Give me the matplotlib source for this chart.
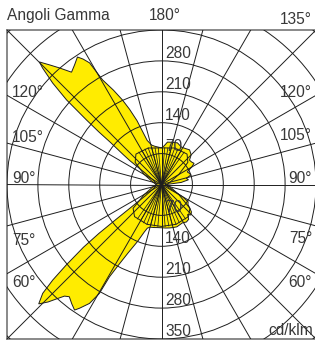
import numpy as np
import matplotlib
matplotlib.use('Agg')
import matplotlib.pyplot as plt
from matplotlib.patches import Circle, Polygon

plt.rcParams['font.family'] = ['Liberation Sans', 'DejaVu Sans']

# ---------------- data (cd/klm versus gamma angle, degrees) ----------------
# C0-C180 plane, C180 half (left side of the diagram)
gA_left = [0, 5, 10, 15, 18, 20, 22.8, 26, 28, 29.4, 29.7, 31.2, 33.5, 34.7, 37,
           39.4, 41, 42.3, 44, 45.8, 47.5, 48.7, 49.8, 51.2, 52, 52.5, 53, 55,
           60, 70, 80, 90, 100, 110, 120, 125, 127, 128, 129.5, 130, 130.7, 131.7,
           133, 134.4, 135.1, 137, 138.8, 141.3, 144, 146.6, 148, 149.4, 150.6,
           153, 155.2, 157, 159, 160.5, 162, 166, 170, 175, 180]
IA_left = [98, 98, 99, 100, 104, 115, 140, 172, 205, 240, 284, 315, 336, 346, 338,
           329, 335, 349, 370, 388, 365, 328, 283, 227, 180, 130, 95, 45,
           25, 15, 12, 10, 12, 15, 25, 45, 90, 110, 150, 185, 224, 288,
           337, 377, 392, 370, 351, 326, 335, 346, 335, 320, 272,
           240, 211, 185, 155, 125, 105, 92, 88, 85, 83]
# C0-C180 plane, C0 half (right side)
gA_right = [0, 5, 10, 15, 20, 25, 28.6, 33.7, 38, 41, 44, 47.5, 50, 53, 57, 60,
            63, 67, 75, 90, 92, 96, 100, 104, 108, 112, 116, 120, 123, 127, 131,
            135, 141, 146, 152, 159, 165, 172, 176, 180]
IA_right = [98, 99, 100, 101, 102, 100, 99, 102, 100, 90, 96, 92, 84, 75, 72, 55,
            30, 18, 12, 8, 15, 45, 62, 58, 70, 68, 65, 79, 88, 85, 84,
            95, 101, 98, 96, 101, 99, 97, 88, 83]

# C90-C270 plane (symmetric, drawn on both sides)
gB = [0, 20, 40, 50, 60, 75, 90, 105, 120, 130, 140, 160, 170, 180]
IB = [95, 96, 95, 84, 45, 20, 12, 20, 45, 78, 90, 88, 84, 83]

rings = [70, 140, 210, 280, 350, 420, 490]
ring_labels_top = [70, 140, 210, 280]
ring_labels_bottom = [70, 140, 210, 280, 350]
spoke_step = 15
fan_step = 5

left_deg_labels = ['120°', '105°', '90°', '75°', '60°']
right_deg_labels = ['120°', '105°', '90°', '75°', '60°']

# ---------------- figure ----------------
W, H = 315, 340
fig = plt.figure(figsize=(W / 100, H / 100), dpi=100)
L, T, S = 7, 30, 309
ax = fig.add_axes([L / W, 1 - (T + S) / H, S / W, S / H])
R = 350
ax.set_xlim(-R, R)
ax.set_ylim(-R, R)
ax.set_xticks([])
ax.set_yticks([])
for sp in ax.spines.values():
    sp.set_color('#6a6a6a')
    sp.set_linewidth(1.1)

YEL = '#FFEC00'
LINE = '#1e1e1e'


def to_xy(g, I, side):
    g = np.radians(np.asarray(g, float))
    I = np.asarray(I, float)
    return side * I * np.sin(g), -I * np.cos(g)


# curve A polygon: right side 0->180, left side 180->0
xr, yr = to_xy(gA_right, IA_right, +1)
xl, yl = to_xy(gA_left[::-1], IA_left[::-1], -1)
polyA = np.column_stack([np.r_[xr, xl], np.r_[yr, yl]])
# curve B polygon (symmetric)
xbr, ybr = to_xy(gB, IB, +1)
xbl, ybl = to_xy(gB[::-1], IB[::-1], -1)
polyB = np.column_stack([np.r_[xbr, xbl], np.r_[ybr, ybl]])

for poly in (polyA, polyB):
    ax.add_patch(Polygon(poly, closed=True, fc=YEL, ec='none', zorder=1))
for poly in (polyA, polyB):
    ax.add_patch(Polygon(poly, closed=True, fc='none', ec=LINE, lw=0.7, zorder=2))

# fan lines of the C90 curve near the vertical
for side in (+1, -1):
    for g in list(range(0, 36, fan_step)) + list(range(145, 181, fan_step)):
        I = np.interp(g, gB, IB)
        x, y = to_xy([g], [I], side)
        ax.plot([0, x[0]], [0, y[0]], color=LINE, lw=0.55, zorder=2)

# grid
for r in rings:
    ax.add_patch(Circle((0, 0), r, fill=False, ec=LINE, lw=0.7, zorder=3))
for a in range(0, 360, spoke_step):
    t = np.radians(a)
    ax.plot([0, 800 * np.sin(t)], [0, -800 * np.cos(t)], color=LINE, lw=0.7,
            zorder=3)

TXT = '#383838'
FS = 11.2
for r in ring_labels_top:
    ax.text(8, r + 7, str(r), ha='left', va='baseline', fontsize=FS, color=TXT,
            zorder=4)
for r in ring_labels_bottom:
    ax.text(8, -r + 7, str(r), ha='left', va='baseline', fontsize=FS, color=TXT,
            zorder=4)


def ftext(px, py, s, ha='left'):
    fig.text(px / W, 1 - py / H, s, ha=ha, va='baseline', fontsize=FS, color=TXT)


ftext(7, 20, 'Angoli Gamma')
ftext(149, 20, '180°')
ftext(312, 24, '135°', ha='right')
for s, py in zip(left_deg_labels, [97, 142, 183, 245, 287]):
    ftext(12, py, s)
for s, py in zip(right_deg_labels, [97, 140, 183, 243, 287]):
    ftext(312, py, s, ha='right')
ftext(268, 335, 'cd/klm')

fig.savefig('out.png', dpi=100)
